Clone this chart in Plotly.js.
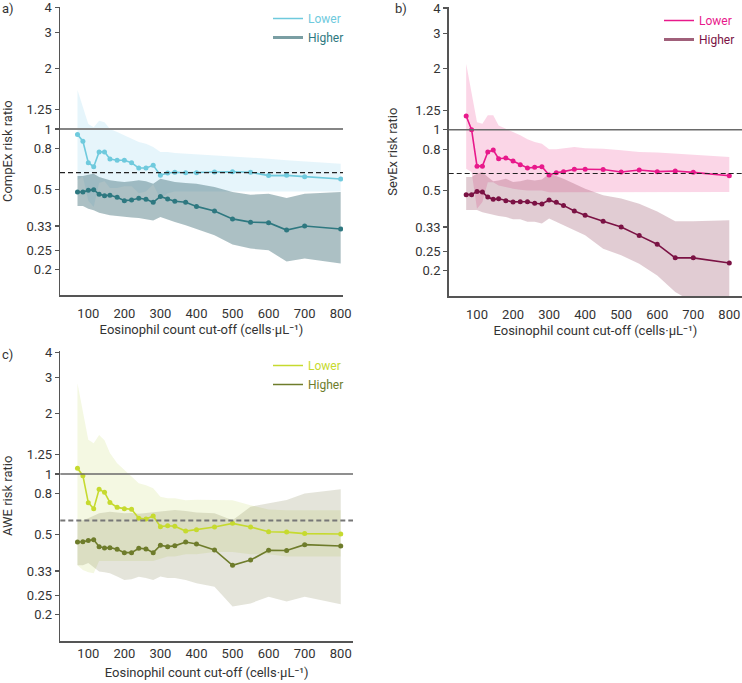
<!DOCTYPE html>
<html><head><meta charset="utf-8">
<script src="https://cdn.plot.ly/plotly-3.0.1.min.js"></script>
<style>html,body{margin:0;padding:0;background:#fff}#chart{width:742px;height:683px}</style>
</head><body><div id="chart"></div>
<script>
// ---------- data ----------
const cutoffs = [70,85,100,115,130,145,160,180,200,220,240,260,280,300,320,340,370,400,450,500,550,600,650,700,800];
const xTicks = [100,200,300,400,500,600,700,800];
const yTicks = [0.2,0.25,0.33,0.5,0.8,1,1.25,2,3,4];
const yTickText = ['0.2','0.25','0.33','0.5','0.8','1','1.25','2','3','4'];
const seriesNames = ['Lower','Higher'];
const panelLabels = ['a)','b)','c)'];
const yTitles = ['CompEx risk ratio','SevEx risk ratio','AWE risk ratio'];
const xTitle = 'Eosinophil count cut-off (cells·µL⁻¹)';
const nullLine = [1,1,1];
const overallRR = [0.607,0.607,0.588];

// a) CompEx
const compLower   = [0.94,0.87,0.68,0.65,0.77,0.77,0.71,0.70,0.70,0.68,0.64,0.64,0.66,0.59,0.605,0.61,0.607,0.607,0.612,0.614,0.61,0.587,0.589,0.58,0.565];
const compLowerHi = [1.56,1.29,1.06,1.02,1.10,1.08,1.00,0.966,0.93,0.895,0.862,0.846,0.814,0.769,0.769,0.76,0.755,0.75,0.74,0.734,0.726,0.712,0.70,0.69,0.673];
const compLowerLo = [0.56,0.58,0.44,0.41,0.54,0.55,0.51,0.51,0.52,0.52,0.48,0.49,0.53,0.45,0.48,0.49,0.49,0.49,0.49,0.49,0.489,0.489,0.489,0.489,0.489];
const compHigher   = [0.487,0.487,0.496,0.50,0.474,0.467,0.469,0.458,0.441,0.444,0.453,0.448,0.433,0.463,0.449,0.438,0.433,0.413,0.392,0.358,0.345,0.343,0.315,0.33,0.319];
const compHigherHi = [0.584,0.584,0.593,0.60,0.578,0.565,0.556,0.55,0.546,0.55,0.556,0.55,0.535,0.567,0.555,0.546,0.54,0.535,0.515,0.487,0.472,0.477,0.455,0.477,0.487];
const compHigherLo = [0.415,0.415,0.402,0.395,0.384,0.378,0.373,0.37,0.366,0.364,0.362,0.357,0.352,0.366,0.355,0.346,0.333,0.32,0.297,0.267,0.255,0.25,0.22,0.228,0.215];

// b) SevEx
const sevLower   = [1.17,1.0,0.66,0.66,0.775,0.793,0.718,0.724,0.70,0.671,0.646,0.651,0.656,0.597,0.612,0.62,0.637,0.637,0.635,0.617,0.632,0.62,0.624,0.615,0.592];
const sevLowerHi = [2.12,1.54,1.09,1.07,1.18,1.18,1.05,1.01,0.974,0.938,0.896,0.869,0.852,0.80,0.80,0.81,0.82,0.81,0.805,0.79,0.776,0.77,0.76,0.752,0.732];
const sevLowerLo = [0.641,0.617,0.406,0.438,0.55,0.55,0.53,0.52,0.51,0.505,0.50,0.50,0.50,0.49,0.49,0.49,0.49,0.49,0.492,0.492,0.492,0.492,0.492,0.492,0.492];
const sevHigher   = [0.477,0.477,0.495,0.491,0.464,0.452,0.455,0.445,0.439,0.44,0.44,0.432,0.429,0.449,0.437,0.422,0.396,0.377,0.352,0.33,0.299,0.271,0.232,0.232,0.219];
const sevHigherHi = [0.583,0.583,0.606,0.617,0.583,0.555,0.56,0.572,0.551,0.555,0.566,0.56,0.566,0.606,0.59,0.572,0.54,0.51,0.473,0.456,0.43,0.394,0.352,0.352,0.356];
const sevHigherLo = [0.40,0.40,0.40,0.39,0.384,0.38,0.374,0.37,0.36,0.36,0.35,0.35,0.343,0.363,0.35,0.336,0.318,0.30,0.2575,0.239,0.217,0.19,0.157,0.14,0.135];

// c) AWE
const aweLower   = [1.067,0.981,0.721,0.673,0.839,0.811,0.723,0.683,0.673,0.668,0.603,0.598,0.619,0.548,0.554,0.55,0.521,0.529,0.546,0.569,0.546,0.517,0.515,0.506,0.504];
const aweLowerHi = [2.82,2.0,1.48,1.42,1.56,1.47,1.27,1.13,1.05,0.97,0.90,0.88,0.85,0.772,0.757,0.757,0.74,0.745,0.745,0.74,0.70,0.667,0.66,0.66,0.66];
const aweLowerLo = [0.353,0.334,0.325,0.322,0.37,0.37,0.37,0.37,0.37,0.37,0.37,0.37,0.37,0.38,0.39,0.39,0.40,0.40,0.41,0.41,0.40,0.40,0.39,0.39,0.39];
const aweHigher   = [0.46,0.461,0.468,0.472,0.436,0.429,0.431,0.423,0.407,0.407,0.428,0.425,0.407,0.443,0.436,0.44,0.46,0.449,0.42,0.352,0.374,0.418,0.417,0.446,0.439];
const aweHigherHi = [0.59,0.59,0.603,0.62,0.638,0.645,0.65,0.645,0.638,0.64,0.635,0.64,0.645,0.65,0.655,0.663,0.655,0.645,0.638,0.59,0.688,0.715,0.743,0.80,0.839];
const aweHigherLo = [0.353,0.353,0.362,0.345,0.328,0.325,0.322,0.31,0.298,0.30,0.309,0.305,0.298,0.31,0.305,0.305,0.298,0.287,0.276,0.22,0.228,0.246,0.233,0.246,0.226];

// ---------- layout helpers ----------
const W = 742, H = 683;
const fx = v => v / W;
const fy = v => 1 - v / H;
const FONT = 'Roboto, "Noto Sans", sans-serif';
const TXT = '#333';

const panels = [
  {xa:'x', ya:'y', xdom:[60,343], ydom:[7,295.3], xr:[21.5,806.4], yr:[-0.8253,0.6055], xticklen:6,
   lower:[compLower,compLowerHi,compLowerLo], higher:[compHigher,compHigherHi,compHigherLo],
   cL:'#6fcadd', bandL:'rgba(140,210,235,0.22)', cH:'#2e7880', bandH:'rgba(70,115,125,0.45)',
   legH:{color:'#7a9ea3', width:3}, nullW:2.2, nullC:'#858585', dashC:'#222', dashW:1.2,
   leg:{x:268, y:4}, lab:[0,8]},
  {xa:'x2', ya:'y2', xdom:[448.7,742], ydom:[7,296.3], xr:[21.5,835.2], yr:[-0.8248,0.6074], xticklen:6,
   lower:[sevLower,sevLowerHi,sevLowerLo], higher:[sevHigher,sevHigherHi,sevHigherLo],
   cL:'#e8198b', bandL:'rgba(238,90,160,0.25)', cH:'#7b1244', bandH:'rgba(130,40,70,0.24)',
   legH:{color:'#a0607a', width:3}, nullW:1.5, nullC:'#6a6a6a', dashC:'#222', dashW:1.2,
   leg:{x:659, y:6}, lab:[393,8]},
  {xa:'x3', ya:'y3', xdom:[60.3,353], ydom:[350.7,641], xr:[22.4,834], yr:[-0.8288,0.612], xticklen:0,
   lower:[aweLower,aweLowerHi,aweLowerLo], higher:[aweHigher,aweHigherHi,aweHigherLo],
   cL:'#c6da2f', bandL:'rgba(200,220,110,0.2)', cH:'#6e7c2b', bandH:'rgba(120,120,70,0.2)',
   legH:{color:'#6e7c2b', width:1.5}, nullW:1.5, nullC:'#6a6a6a', dashC:'#777', dashW:2,
   leg:{x:268, y:351}, lab:[0,354]}
];

const traces = [];
const layout = {
  width: W, height: H, margin:{l:0,r:0,t:0,b:0},
  paper_bgcolor:'#fff', plot_bgcolor:'#fff', showlegend:true,
  font:{family:FONT, color:TXT, size:13},
  shapes:[], annotations:[]
};

panels.forEach((p, i) => {
  const legName = i === 0 ? 'legend' : 'legend' + (i + 1);
  const base = {xaxis:p.xa, yaxis:p.ya, hoverinfo:'skip', showlegend:false};
  // confidence bands
  [[p.lower, p.bandL], [p.higher, p.bandH]].forEach(([s, col]) => {
    traces.push(Object.assign({}, base, {type:'scatter', mode:'lines', x:cutoffs, y:s[1], line:{width:0, color:col}}));
    traces.push(Object.assign({}, base, {type:'scatter', mode:'lines', x:cutoffs, y:s[2], line:{width:0, color:col}, fill:'tonexty', fillcolor:col}));
  });
  // point estimates
  [[p.lower, p.cL], [p.higher, p.cH]].forEach(([s, col]) => {
    traces.push(Object.assign({}, base, {type:'scatter', mode:'lines+markers', x:cutoffs, y:s[0],
      line:{width:1.6, color:col}, marker:{size:5, color:col}}));
  });
  // legend entries
  traces.push({type:'scatter', mode:'lines', x:[null], y:[null], xaxis:p.xa, yaxis:p.ya, legend:legName,
    name:'<span style="color:' + p.cL + '">' + seriesNames[0] + '</span>', line:{color:p.cL, width:1.5}, hoverinfo:'skip'});
  traces.push({type:'scatter', mode:'lines', x:[null], y:[null], xaxis:p.xa, yaxis:p.ya, legend:legName,
    name:'<span style="color:' + p.cH + '">' + seriesNames[1] + '</span>', line:p.legH, hoverinfo:'skip'});

  const sfx = i === 0 ? '' : String(i + 1);
  layout['xaxis' + sfx] = {
    domain:[fx(p.xdom[0]), fx(p.xdom[1])], range:p.xr, anchor:p.ya,
    tickvals:xTicks, ticks:'outside', ticklen:p.xticklen, tickcolor:'rgba(0,0,0,0)',
    showline:true, linecolor:'#555', linewidth:1.5, showgrid:false, zeroline:false,
    tickfont:{size:13, color:TXT, family:FONT}, ticklabeloverflow:'allow',
    title:{text:xTitle, font:{size:13, color:TXT, family:FONT}, standoff: i === 2 ? 8 : 4}
  };
  layout['yaxis' + sfx] = {
    domain:[fy(p.ydom[1]), fy(p.ydom[0])], type:'log', range:p.yr, anchor:p.xa,
    tickvals:yTicks, ticktext:yTickText, ticks:'outside', ticklen:4, tickcolor:'#555', tickwidth:1.2,
    showline:true, linecolor:'#555', linewidth:1.5, showgrid:false, zeroline:false,
    tickfont:{size:13, color:TXT, family:FONT}, ticklabeloverflow:'allow',
    title:{text:yTitles[i], font:{size:13, color:TXT, family:FONT}, standoff:14}
  };
  layout[legName] = {
    x:fx(p.leg.x), xanchor:'left', y:fy(p.leg.y), yanchor:'top', traceorder:'normal',
    bgcolor:'rgba(0,0,0,0)', borderwidth:0, itemwidth:30, tracegroupgap:0,
    font:{size:12, family:FONT}
  };
  // reference lines: no effect (1) and overall risk ratio
  layout.shapes.push({type:'line', xref:p.xa + ' domain', yref:p.ya, x0:0, x1:1, y0:nullLine[i], y1:nullLine[i],
    line:{color:p.nullC, width:p.nullW}});
  layout.shapes.push({type:'line', xref:p.xa + ' domain', yref:p.ya, x0:0, x1:1, y0:overallRR[i], y1:overallRR[i],
    line:{color:p.dashC, width:p.dashW, dash:'5px,3px'}});
  layout.annotations.push({text:panelLabels[i], xref:'paper', yref:'paper', x:fx(p.lab[0]), y:fy(p.lab[1]),
    xanchor:'left', yanchor:'middle', showarrow:false, font:{size:13, color:TXT, family:FONT}});
});

Plotly.newPlot('chart', traces, layout, {staticPlot:true, displayModeBar:false});
</script></body></html>
